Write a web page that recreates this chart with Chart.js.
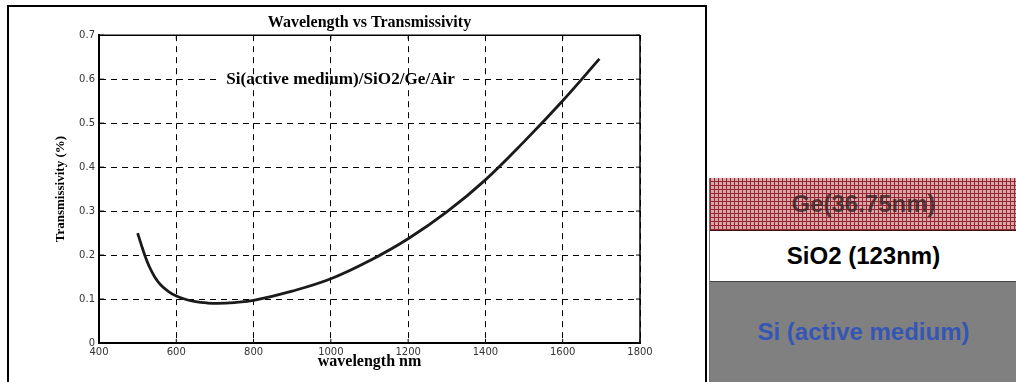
<!DOCTYPE html>
<html>
<head>
<meta charset="utf-8">
<script src="https://cdn.jsdelivr.net/npm/chart.js@4.4.0/dist/chart.umd.min.js"></script>
<style>
  html, body { margin: 0; padding: 0; background: #fff; }
  body { width: 1016px; height: 382px; position: relative; overflow: hidden; }
  #frame {
    position: absolute; left: 7px; top: 5px; width: 696px; height: 400px;
    border: 2px solid #000;
  }
  #plot { position: absolute; left: 0; top: 0; }
  #stack {
    position: absolute; left: 709px; top: 178px; width: 307px; height: 210px;
    border-left: 1px solid #777;
    font-family: "Liberation Sans", Arial, sans-serif; font-weight: bold; font-size: 24px;
  }
  .layer { display: flex; align-items: center; justify-content: center; box-sizing: border-box; }
  .ge {
    height: 53px;
    background-color: #d9a7aa;
    background-image:
      repeating-linear-gradient(90deg, #962630 0 1px, transparent 1px 4px),
      repeating-linear-gradient(0deg, #962630 0 1px, transparent 1px 4px);
    border-bottom: 1px solid #3a1414;
    color: rgba(50, 30, 30, 0.75);
  }
  .sio2 { height: 51px; background: #fff; color: #000; border-bottom: 1px solid #444; }
  .si { height: 110px; background: #808080; color: #3556b4; padding-bottom: 10px; }
</style>
</head>
<body>
<div id="frame"></div>
<canvas id="plot" width="705" height="382"></canvas>
<div id="stack">
  <div class="layer ge">Ge(36.75nm)</div>
  <div class="layer sio2">SiO2 (123nm)</div>
  <div class="layer si">Si (active medium)</div>
</div>
<script>
// transmissivity of the Si/SiO2/Ge/Air stack against wavelength
var wavelengths = [500, 510, 520, 530, 545, 560, 580, 600, 625, 650, 680, 706, 750, 800, 900, 1000, 1100, 1200, 1300, 1400, 1500, 1600, 1695];
var transmissivity = [0.250, 0.222, 0.196, 0.174, 0.149, 0.132, 0.117, 0.107, 0.099, 0.094, 0.091, 0.090, 0.092, 0.097, 0.118, 0.146, 0.187, 0.237, 0.298, 0.371, 0.458, 0.551, 0.646];
var xTickLabels = ['400', '600', '800', '1000', '1200', '1400', '1600', '1800'];
var yTickLabels = ['0', '0.1', '0.2', '0.3', '0.4', '0.5', '0.6', '0.7'];
var stackLabel = 'Si(active medium)/SiO2/Ge/Air';

var serif = '"Liberation Serif", "Times New Roman", serif';
var sans = '"DejaVu Sans", sans-serif';

// solid box round the plot area, short inward ticks and the stack label
var plotFrame = {
  id: 'plotFrame',
  afterDraw: function(chart) {
    var c = chart.ctx, a = chart.chartArea;
    var xs = chart.scales.x, ys = chart.scales.y;
    c.save();
    c.strokeStyle = '#000';
    c.lineWidth = 1.5;
    c.beginPath();
    c.moveTo(a.left, a.top); c.lineTo(a.right, a.top);
    c.moveTo(a.right, a.top); c.lineTo(a.right, a.bottom);
    c.stroke();
    c.lineWidth = 1;
    c.beginPath();
    xs.ticks.forEach(function(t) {
      var px = xs.getPixelForValue(t.value);
      c.moveTo(px, a.bottom); c.lineTo(px, a.bottom - 4);
      c.moveTo(px, a.top); c.lineTo(px, a.top + 4);
    });
    ys.ticks.forEach(function(t) {
      var py = ys.getPixelForValue(t.value);
      c.moveTo(a.left, py); c.lineTo(a.left + 5, py);
      c.moveTo(a.right, py); c.lineTo(a.right - 4, py);
    });
    c.stroke();

    c.font = 'bold 16px ' + serif;
    c.textAlign = 'center';
    c.textBaseline = 'middle';
    var tx = xs.getPixelForValue(1025), ty = ys.getPixelForValue(0.6);
    var w = c.measureText(stackLabel).width * 1.07;
    c.fillStyle = '#fff';
    c.fillRect(tx - w / 2 - 8, ty - 2, w + 16, 4);
    c.fillStyle = '#000';
    // slightly widened lettering
    c.translate(tx, ty + 1);
    c.scale(1.07, 1);
    c.fillText(stackLabel, 0, 0);
    c.restore();
  }
};

var ctx = document.getElementById('plot');
var points = wavelengths.map(function(w, i) { return { x: w, y: transmissivity[i] }; });

new Chart(ctx, {
  type: 'line',
  data: {
    datasets: [{
      label: 'Transmissivity',
      data: points,
      borderColor: '#1a1a1a',
      borderWidth: 2.8,
      pointRadius: 0,
      fill: false,
      tension: 0.4
    }]
  },
  options: {
    responsive: false,
    animation: false,
    devicePixelRatio: 1,
    layout: { padding: { left: 50, right: 65, top: 0, bottom: 8 } },
    plugins: {
      legend: { display: false },
      tooltip: { enabled: false },
      title: {
        display: true,
        text: 'Wavelength vs Transmissivity',
        fullSize: false,
        color: '#000',
        font: { family: serif, weight: 'bold', size: 16 },
        padding: { top: 13, bottom: 3 }
      }
    },
    scales: {
      x: {
        type: 'linear',
        min: 400,
        max: 1800,
        afterFit: function(s) { s.height = 31; },
        ticks: {
          stepSize: 200,
          padding: 3,
          color: '#333',
          font: { family: sans, size: 10 },
          callback: function(v, i) { return xTickLabels[i]; }
        },
        grid: { color: '#000', lineWidth: 1, drawTicks: false },
        border: { display: true, color: '#000', width: 2, dash: [6, 5] },
        title: {
          display: true,
          text: 'wavelength nm',
          color: '#000',
          font: { family: serif, weight: 'bold', size: 16 },
          padding: { top: 0, bottom: 3 }
        }
      },
      y: {
        min: 0,
        max: 0.7,
        afterFit: function(s) { s.width = 49; },
        ticks: {
          stepSize: 0.1,
          padding: 4,
          color: '#333',
          font: { family: sans, size: 10 },
          callback: function(v, i) { return yTickLabels[i]; }
        },
        grid: { color: '#000', lineWidth: 1, drawTicks: false },
        border: { display: true, color: '#000', width: 2, dash: [6, 5] },
        title: {
          display: true,
          text: 'Transmissivity (%)',
          color: '#000',
          font: { family: serif, weight: 'bold', size: 13 },
          padding: { top: 3, bottom: 0 }
        }
      }
    }
  },
  plugins: [plotFrame]
});
</script>
</body>
</html>
